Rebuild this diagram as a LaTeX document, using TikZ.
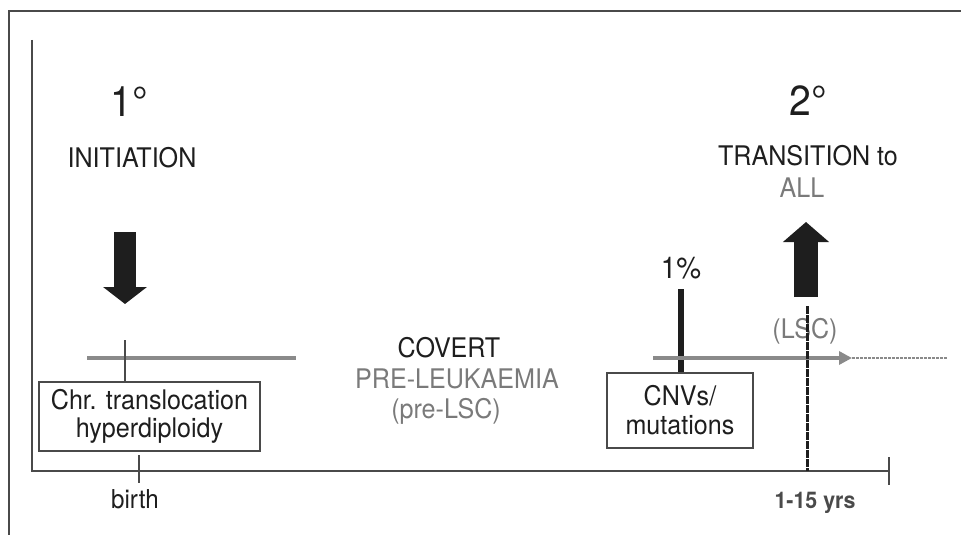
\documentclass[tikz,border=0pt]{standalone}
\usepackage{fontspec}
\setmainfont{TeX Gyre Heros}[FakeStretch=0.93]
\usetikzlibrary{arrows.meta}

\definecolor{ink}{HTML}{1E1E1E}
\definecolor{softgray}{HTML}{7A7A7A}
\definecolor{linegray}{HTML}{8A8A8A}
\definecolor{framegray}{HTML}{4A4A4A}

\begin{document}
\begin{tikzpicture}[x=1pt,y=-1pt,
    every node/.style={font=\fontsize{27}{28}\selectfont, text=ink, inner sep=0pt},
    lbl/.style={anchor=base},
    deg/.style={anchor=base, font=\fontsize{42}{44}\selectfont},
    faint/.style={text=softgray},
    eventbox/.style={draw=framegray, line width=1.3pt, align=center},
    timeline/.style={draw=linegray, line width=4pt},
    thinline/.style={draw=framegray, line width=1.3pt},
    blockarrow/.style={draw=ink, line width=#1}]
    \useasboundingbox (0,0) rectangle (961,535);

    % frame and axes
    \draw[thinline] (9,535) -- (9,11) -- (961,11);
    \coordinate (yTop) at (32,40);
    \coordinate (origin) at (32,471);
    \coordinate (xEnd) at (889,471);
    \draw[thinline] (yTop) -- (origin) -- (xEnd);
    \draw[thinline] (139,455) -- (139,483);
    \draw[thinline] (xEnd) ++(0,-14) -- ++(0,28);

    % initiation
    \node[deg] (one) at (129,116) {1°};
    \node[lbl] (init) at (132,167) {INITIATION};
    \coordinate (downTop) at (125,232);
    \coordinate (downTip) at (125,304);
    \draw[blockarrow=22pt, -{Triangle[width=43pt,length=17pt]}] (downTop) -- (downTip);
    \draw[timeline] (87,358) -- (296,358);
    \node[eventbox, minimum width=221pt, minimum height=69pt] (chr) at (149.5,416.5)
        {Chr. translocation\\hyperdiploidy};
    \draw[thinline] (125,340) -- (chr.north -| 125,0);
    \node[lbl, font=\fontsize{26}{26}\selectfont] (birth) at (135,508) {birth};

    % covert phase
    \node[lbl] (covert) at (449,357) {COVERT};
    \node[lbl, faint] (preleuk) at (457,388) {PRE-LEUKAEMIA};
    \node[lbl, faint] (prelsc) at (446,418) {(pre-LSC)};

    % second hit
    \node[eventbox, minimum width=146pt, minimum height=75pt, font=\fontsize{27}{29}\selectfont] (cnv) at (680,410.5)
        {CNVs/\\mutations};
    \node[lbl, font=\fontsize{30}{30}\selectfont] (pct) at (681,278) {1\%};
    \coordinate (barTop) at (681,289);
    \draw[blockarrow=6pt] (barTop) -- (cnv.north -| barTop);
    \coordinate (lineStart) at (653,358);
    \coordinate (lineTip) at (852,358);
    \coordinate (lineEnd) at (947,358);
    \draw[timeline, -{Triangle[width=13pt,length=13pt]}] (lineStart) -- (lineTip);
    \draw[draw=linegray, line width=1.4pt, dash pattern=on 3pt off 1pt] (lineTip) -- (lineEnd);

    % transition
    \node[deg] (two) at (808,115) {2°};
    \node[lbl] (trans) at (808,165) {TRANSITION to};
    \node[lbl, faint] (all) at (802,197) {ALL};
    \coordinate (upBase) at (806,297);
    \coordinate (upTip) at (806,222);
    \draw[blockarrow=24pt, -{Triangle[width=45pt,length=20pt]}] (upBase) -- (upTip);
    \node[lbl, faint] (lsc) at (805,338) {(LSC)};
    \coordinate (lscTop) at (807,306);
    \draw[draw=ink, line width=3pt, dash pattern=on 8pt off 1pt] (lscTop) -- (lscTop |- origin);
    \node[lbl, text=framegray, font=\fontsize{23}{24}\selectfont\bfseries] (yrs) at (815,508) {1-15 yrs};
\end{tikzpicture}
\end{document}
